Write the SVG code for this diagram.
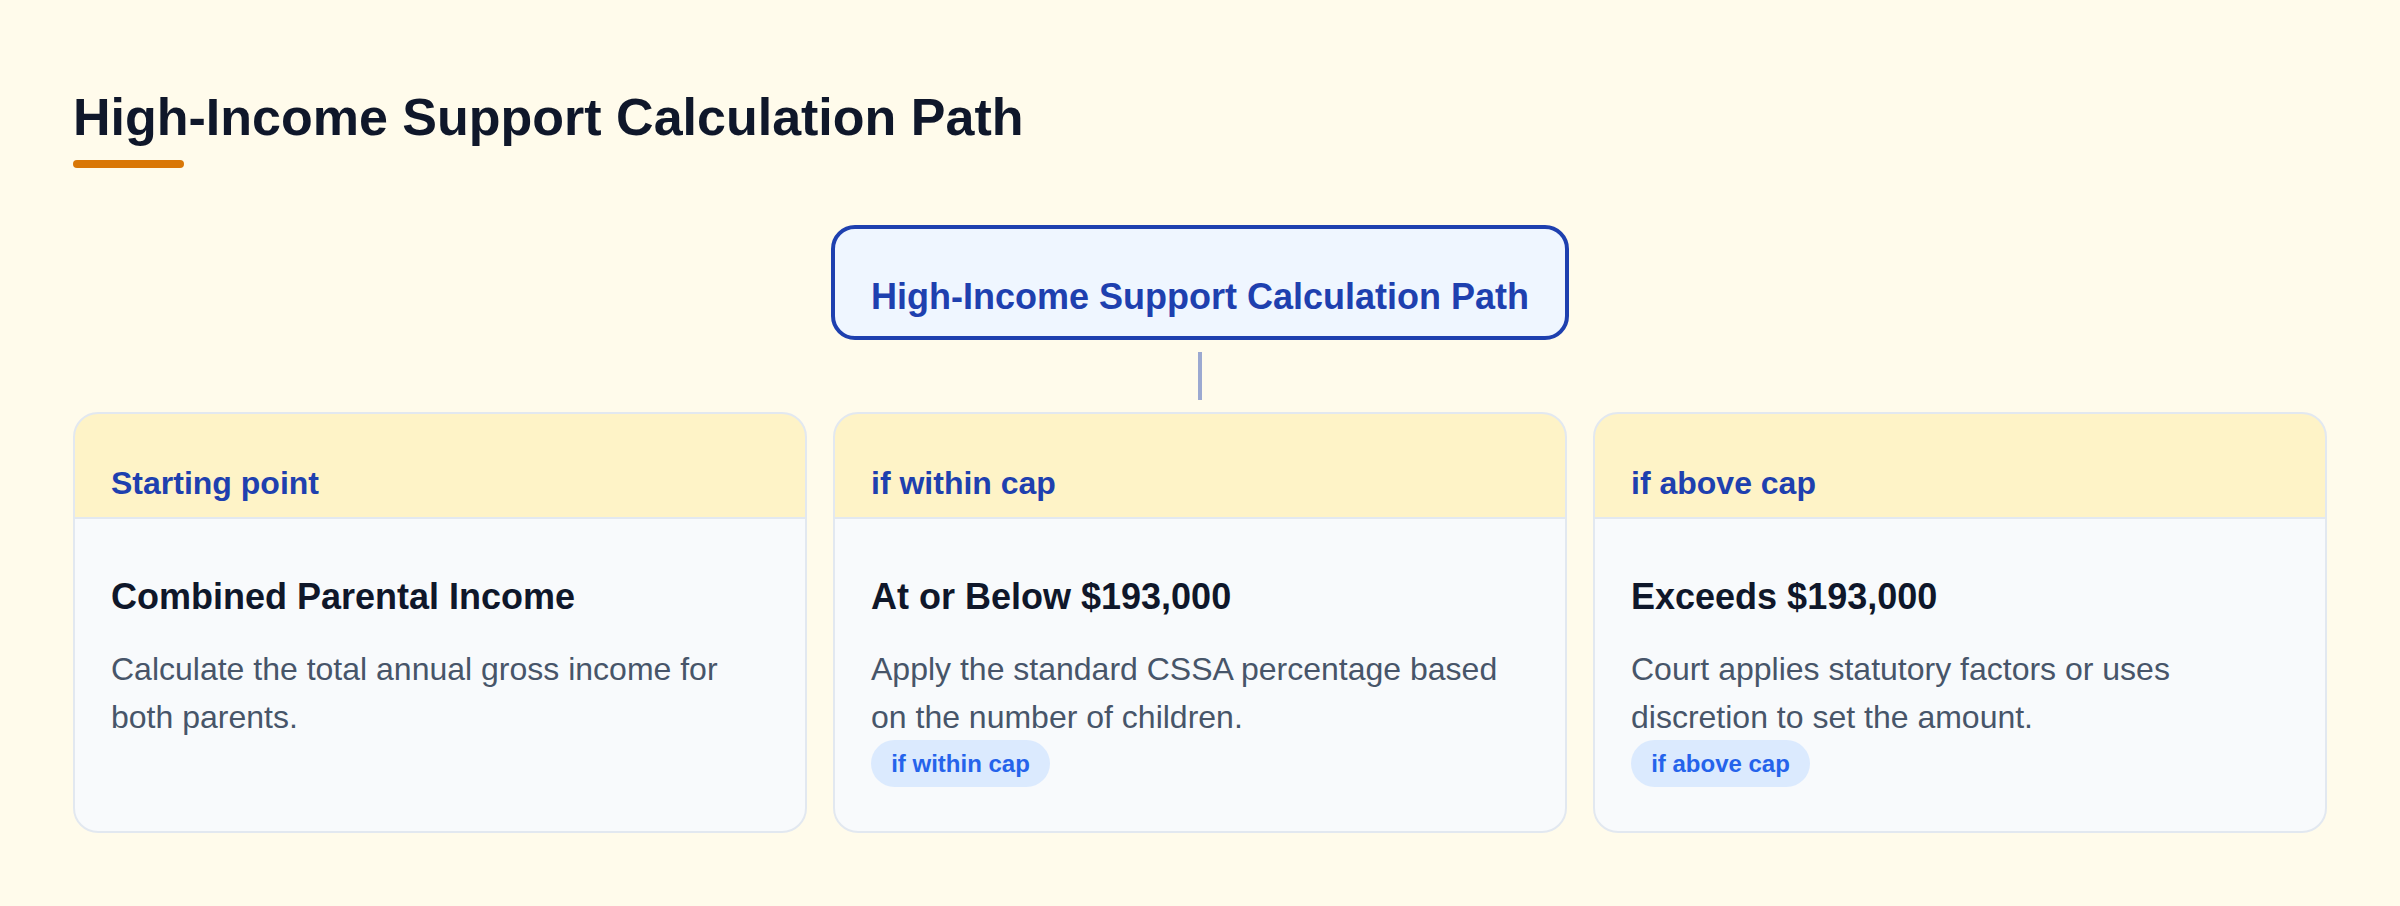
<svg xmlns="http://www.w3.org/2000/svg" width="2400" height="906" viewBox="0 0 2400 906">
  <style>
    .title { font-family: "Liberation Sans", Arial, sans-serif; font-weight: bold; font-size: 52px; fill: #0f172a; }
    .root-box { fill: #eff6ff; stroke: #1e40af; stroke-width: 4; }
    .root-text { font-family: "Liberation Sans", Arial, sans-serif; font-weight: bold; font-size: 36px; fill: #1e40af; text-anchor: middle; }
    .card-body { fill: #f8fafc; }
    .card-head { fill: #fef3c7; }
    .card-outline { fill: none; stroke: #e2e8f0; stroke-width: 2; }
    .divider { stroke: #e2e8f0; stroke-width: 2; }
    .head-text { font-family: "Liberation Sans", Arial, sans-serif; font-weight: bold; font-size: 32px; fill: #1e40af; }
    .card-title { font-family: "Liberation Sans", Arial, sans-serif; font-weight: bold; font-size: 36px; fill: #0f172a; }
    .desc { font-family: "Liberation Sans", Arial, sans-serif; font-size: 32px; fill: #475569; }
    .pill { fill: #dbeafe; }
    .pill-text { font-family: "Liberation Sans", Arial, sans-serif; font-weight: bold; font-size: 24px; fill: #2563eb; text-anchor: middle; }
    .connector { stroke: #9ca9d1; stroke-width: 4; fill: none; }
  </style>
  <rect x="0" y="0" width="2400" height="906" fill="#fffbeb"/>

  <g id="heading">
    <text class="title" x="73" y="135">High-Income Support Calculation Path</text>
    <rect x="73" y="160" width="111" height="8" rx="4" fill="#d97706"/>
  </g>

  <g id="connectors">
    <line class="connector" x1="1200" y1="352" x2="1200" y2="400"/>
  </g>

  <g id="root">
    <rect class="root-box" x="833" y="227" width="734" height="111" rx="22"/>
    <text class="root-text" x="1200" y="309">High-Income Support Calculation Path</text>
  </g>

  <g id="card-start" transform="translate(0,0)">
    <rect class="card-body" x="74" y="413" width="732" height="419" rx="24"/>
    <path class="card-head" d="M74,518 V437 A24,24 0 0 1 98,413 H782 A24,24 0 0 1 806,437 V518 Z"/>
    <line class="divider" x1="74" y1="518" x2="806" y2="518"/>
    <rect class="card-outline" x="74" y="413" width="732" height="419" rx="24"/>
    <text class="head-text" x="111" y="494">Starting point</text>
    <text class="card-title" x="111" y="609">Combined Parental Income</text>
    <text class="desc" x="111" y="680">Calculate the total annual gross income for</text>
    <text class="desc" x="111" y="728">both parents.</text>
  </g>

  <g id="card-within">
    <rect class="card-body" x="834" y="413" width="732" height="419" rx="24"/>
    <path class="card-head" d="M834,518 V437 A24,24 0 0 1 858,413 H1542 A24,24 0 0 1 1566,437 V518 Z"/>
    <line class="divider" x1="834" y1="518" x2="1566" y2="518"/>
    <rect class="card-outline" x="834" y="413" width="732" height="419" rx="24"/>
    <text class="head-text" x="871" y="494">if within cap</text>
    <text class="card-title" x="871" y="609">At or Below $193,000</text>
    <text class="desc" x="871" y="680">Apply the standard CSSA percentage based</text>
    <text class="desc" x="871" y="728">on the number of children.</text>
    <rect class="pill" x="871" y="740" width="179" height="47" rx="23.5"/>
    <text class="pill-text" x="960.5" y="772">if within cap</text>
  </g>

  <g id="card-above">
    <rect class="card-body" x="1594" y="413" width="732" height="419" rx="24"/>
    <path class="card-head" d="M1594,518 V437 A24,24 0 0 1 1618,413 H2302 A24,24 0 0 1 2326,437 V518 Z"/>
    <line class="divider" x1="1594" y1="518" x2="2326" y2="518"/>
    <rect class="card-outline" x="1594" y="413" width="732" height="419" rx="24"/>
    <text class="head-text" x="1631" y="494">if above cap</text>
    <text class="card-title" x="1631" y="609">Exceeds $193,000</text>
    <text class="desc" x="1631" y="680">Court applies statutory factors or uses</text>
    <text class="desc" x="1631" y="728">discretion to set the amount.</text>
    <rect class="pill" x="1631" y="740" width="179" height="47" rx="23.5"/>
    <text class="pill-text" x="1720.5" y="772">if above cap</text>
  </g>
</svg>
